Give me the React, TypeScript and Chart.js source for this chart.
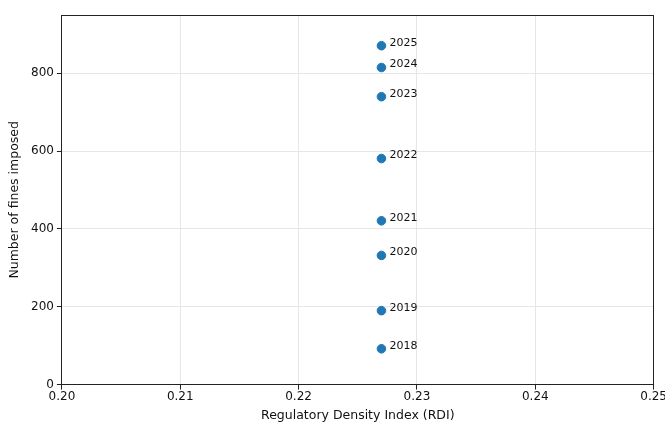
import React, { useEffect, useRef } from "react";
import { Chart, registerables } from "chart.js";

Chart.register(...registerables);

const years = ["2018", "2019", "2020", "2021", "2022", "2023", "2024", "2025"];
const rdi = [0.227, 0.227, 0.227, 0.227, 0.227, 0.227, 0.227, 0.227];
const fines = [92, 190, 332, 421, 581, 740, 815, 871];
const xTicks = [0.2, 0.21, 0.22, 0.23, 0.24, 0.25];

const FONT = "'DejaVu Sans', sans-serif";
const W = 667;
const H = 425;

const align = (p: number) => Math.round(p - 0.5) + 0.5;

const framePlugin = {
  id: "frame",
  afterDatasetsDraw(chart: any) {
    const ctx = chart.ctx;
    const meta = chart.getDatasetMeta(0);
    ctx.save();
    ctx.fillStyle = "#111";
    ctx.font = `11px ${FONT}`;
    ctx.textAlign = "left";
    ctx.textBaseline = "middle";
    meta.data.forEach((pt: any, i: number) => {
      ctx.fillText(years[i], pt.x + 8, pt.y - 3);
    });
    ctx.restore();
  },
  afterDraw(chart: any) {
    const { ctx, chartArea } = chart;
    const l = align(chartArea.left);
    const r = align(chartArea.right);
    const t = align(chartArea.top);
    const b = align(chartArea.bottom);
    ctx.save();
    ctx.strokeStyle = "#222";
    ctx.lineWidth = 1;
    ctx.strokeRect(l, t, r - l, b - t);
    ctx.restore();
  },
};

export default function App() {
  const ref = useRef<HTMLCanvasElement | null>(null);
  useEffect(() => {
    if (!ref.current) return;
    const chart = new Chart(ref.current, {
      type: "scatter",
      data: {
        datasets: [
          {
            data: rdi.map((x, i) => ({ x, y: fines[i] })),
            backgroundColor: "#1f77b4",
            borderColor: "#1f77b4",
            pointRadius: 4.3,
            pointHoverRadius: 4.3,
          },
        ],
      },
      options: {
        responsive: false,
        animation: false,
        devicePixelRatio: 1,
        layout: { padding: { top: 15, left: 7, right: 0, bottom: 2 } },
        plugins: { legend: { display: false }, tooltip: { enabled: false } },
        scales: {
          x: {
            type: "linear",
            min: 0.2,
            max: 0.25,
            afterBuildTicks: (axis: any) => {
              axis.ticks = xTicks.map((v) => ({ value: v }));
            },
            ticks: {
              font: { family: FONT, size: 12 },
              color: "#111",
              padding: 0,
              callback: (v: any) => Number(v).toFixed(2),
              maxRotation: 0,
            },
            grid: { color: "#e6e6e6", tickColor: "#222", tickLength: 5 },
            border: { display: false },
            title: {
              display: true,
              text: "Regulatory Density Index (RDI)",
              font: { family: FONT, size: 12.5 },
              color: "#111",
              padding: { top: 4, bottom: 0 },
            },
          },
          y: {
            type: "linear",
            min: 0,
            max: 950,
            ticks: {
              stepSize: 200,
              includeBounds: false,
              font: { family: FONT, size: 12 },
              color: "#111",
              padding: 3,
            },
            grid: { color: "#e6e6e6", tickColor: "#222", tickLength: 5 },
            border: { display: false },
            title: {
              display: true,
              text: "Number of fines imposed",
              font: { family: FONT, size: 12.5 },
              color: "#111",
              padding: { top: 0, bottom: 6 },
            },
          },
        },
      },
      plugins: [framePlugin],
    });
    return () => chart.destroy();
  }, []);
  return (
    <div style={{ position: "absolute", left: 0, top: 0, width: 665, height: 424, overflow: "hidden", background: "#fff" }}>
      <canvas ref={ref} width={W} height={H} style={{ width: W, height: H, display: "block" }} />
    </div>
  );
}
